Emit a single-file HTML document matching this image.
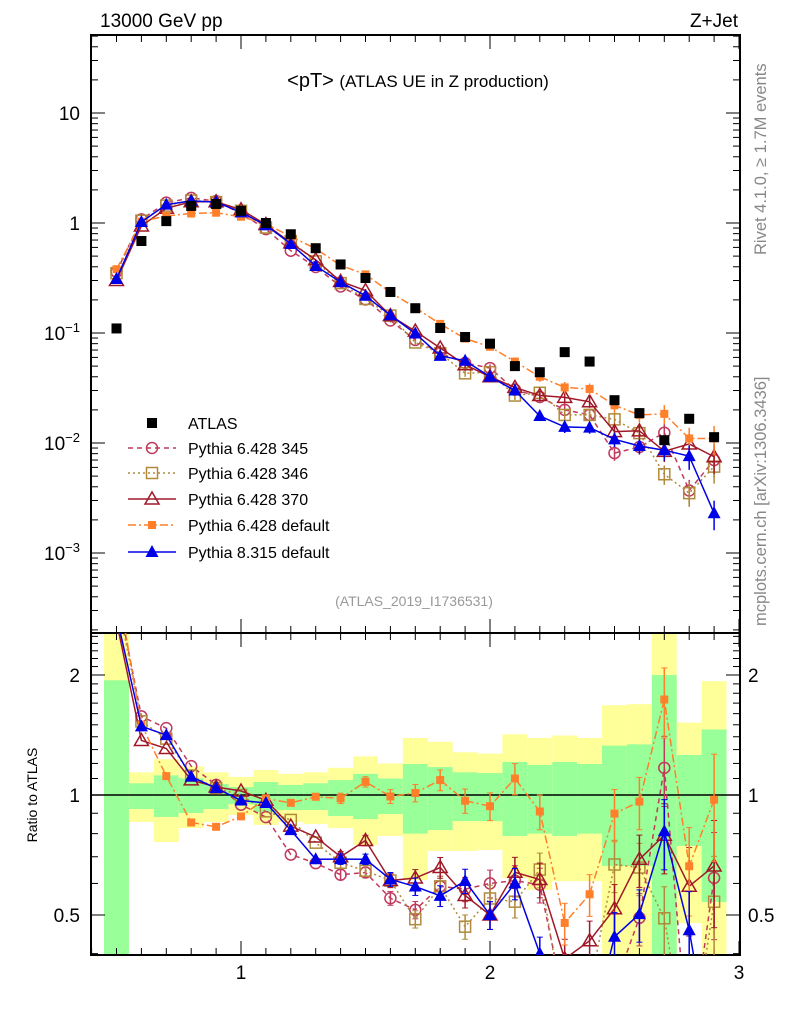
<!DOCTYPE html>
<html><head><meta charset="utf-8"><style>
html,body{margin:0;padding:0;background:#fff;overflow:hidden;width:786px;height:1024px;}
svg{display:block;font-family:"Liberation Sans",sans-serif;}
</style></head><body>
<svg id="c" width="786" height="1024" xmlns="http://www.w3.org/2000/svg">
<g id="bands"></g>
<g id="axes"></g>
<g id="series"></g>
<g id="txt">
<text x="100" y="27" font-size="19">13000 GeV pp</text>
<text x="738" y="27" font-size="19" text-anchor="end">Z+Jet</text>
<text x="418" y="87" font-size="20" text-anchor="middle">&lt;pT&gt; <tspan font-size="17">(ATLAS UE in Z production)</tspan></text>
<text x="414" y="606" font-size="14" fill="#999" text-anchor="middle">(ATLAS_2019_I1736531)</text>
<text transform="translate(766,255) rotate(-90)" font-size="16.5" fill="#888">Rivet 4.1.0, ≥ 1.7M events</text>
<text transform="translate(766,626) rotate(-90)" font-size="16.5" fill="#888">mcplots.cern.ch [arXiv:1306.3436]</text>
<text transform="translate(37,795) rotate(-90)" font-size="14" text-anchor="middle">Ratio to ATLAS</text>
</g>
<g id="legend"></g>
</svg>
<script>
const xs = [0.5,0.6,0.7,0.8,0.9,1.0,1.1,1.2,1.3,1.4,1.5,1.6,1.7,1.8,1.9,2.0,2.1,2.2,2.3,2.4,2.5,2.6,2.7,2.8,2.9];
const atlas = [0.11,0.686,1.04,1.43,1.49,1.29,1.0,0.79,0.59,0.42,0.316,0.236,0.168,0.111,0.092,0.080,0.050,0.044,0.067,0.055,0.0245,0.0187,0.0106,0.0166,0.0113];
const py345 = [0.36,1.08,1.53,1.69,1.58,1.22,0.88,0.56,0.398,0.265,0.202,0.130,0.0865,0.0655,0.0534,0.048,0.0305,0.0262,0.020,0.018,0.0081,0.0092,0.0124,0.0037,0.0070];
const py346 = [0.35,1.05,1.44,1.60,1.55,1.29,0.91,0.684,0.448,0.284,0.204,0.144,0.082,0.0655,0.043,0.044,0.027,0.0286,0.018,0.018,0.0164,0.0123,0.0052,0.0035,0.0061];
const py370 = [0.30,0.94,1.36,1.56,1.56,1.32,0.97,0.66,0.463,0.294,0.243,0.144,0.104,0.073,0.0515,0.040,0.032,0.027,0.026,0.0237,0.0127,0.0129,0.0084,0.0098,0.0075];
const py6def = [0.38,1.03,1.16,1.22,1.24,1.14,0.98,0.755,0.584,0.412,0.341,0.234,0.170,0.121,0.089,0.075,0.055,0.040,0.032,0.031,0.022,0.018,0.0184,0.011,0.011];
const py8def = [0.31,1.02,1.47,1.59,1.55,1.25,0.955,0.645,0.407,0.29,0.218,0.145,0.099,0.062,0.056,0.040,0.030,0.0176,0.014,0.0138,0.0108,0.0094,0.0086,0.0076,0.0023];
const mcRelErr = [0.01,0.01,0.01,0.01,0.01,0.01,0.01,0.02,0.02,0.03,0.03,0.04,0.05,0.06,0.07,0.08,0.09,0.10,0.12,0.12,0.15,0.15,0.2,0.25,0.3];
const greenLo = [0.3,0.922,0.881,0.901,0.922,0.949,0.906,0.917,0.917,0.886,0.87,0.896,0.80,0.817,0.86,0.86,0.789,0.80,0.789,0.80,0.664,0.664,0.3,0.745,0.539];
const greenHi = [1.94,1.07,1.12,1.10,1.066,1.047,1.078,1.06,1.07,1.09,1.13,1.10,1.196,1.175,1.14,1.135,1.21,1.19,1.21,1.196,1.33,1.34,2.0,1.26,1.46];
const yellowLo = [0.3,0.856,0.762,0.826,0.856,0.891,0.841,0.856,0.846,0.826,0.749,0.789,0.612,0.724,0.724,0.728,0.619,0.578,0.608,0.608,0.3,0.3,0.3,0.477,0.3];
const yellowHi = [3,1.14,1.23,1.18,1.14,1.11,1.155,1.13,1.14,1.17,1.25,1.20,1.39,1.36,1.28,1.27,1.42,1.39,1.41,1.39,1.68,1.69,3,1.52,1.93];
const ratioTickVals = [0.5,1,2];
const xTickVals = [1,2,3];

const NS="http://www.w3.org/2000/svg";
const L=91,R=740,T=35,MB=633,RB=955;
const X=v=>241+(v-1)*249;
const Y=v=>223-Math.log10(v)*110;
const YR=v=>795-Math.log2(v)*120;
function el(p,tag,at){const e=document.createElementNS(NS,tag);for(const k in at)e.setAttribute(k,at[k]);p.appendChild(e);return e;}
const axes=document.getElementById('axes'),bands=document.getElementById('bands'),ser=document.getElementById('series'),leg=document.getElementById('legend');
const clip=el(document.getElementById('c'),'defs',{});
const cp1=el(clip,'clipPath',{id:'cm'});el(cp1,'rect',{x:L,y:T,width:R-L,height:MB-T});
const cp2=el(clip,'clipPath',{id:'cr'});el(cp2,'rect',{x:L,y:MB,width:R-L,height:RB-MB});
bands.setAttribute('clip-path','url(#cr)');
xs.forEach((x,i)=>{
 const a=X(x-0.05),w=X(x+0.05)-a;
 const yb=el(bands,'rect',{x:a,y:YR(yellowHi[i]),width:w,height:YR(yellowLo[i])-YR(yellowHi[i]),fill:'#ffff99'});
 
 
 const gb=el(bands,'rect',{x:a,y:YR(greenHi[i]),width:w,height:YR(greenLo[i])-YR(greenHi[i]),fill:'#99ff99'});
 
 
});
el(axes,'line',{x1:L,x2:R,y1:795,y2:795,stroke:'#000','stroke-width':1.5});
el(axes,'rect',{x:L,y:T,width:R-L,height:MB-T,fill:'none',stroke:'#000','stroke-width':2});
el(axes,'rect',{x:L,y:MB,width:R-L,height:RB-MB,fill:'none',stroke:'#000','stroke-width':2});
for(let d=-4;d<=1;d++){for(let m=1;m<10;m++){const v=m*Math.pow(10,d);const y=Y(v);if(y<T||y>MB)continue;const len=m==1?14:7;
 el(axes,'line',{x1:L,x2:L+len,y1:y,y2:y,stroke:'#000'});el(axes,'line',{x1:R,x2:R-len,y1:y,y2:y,stroke:'#000'});}}
[[10,"10"],[1,"1"]].forEach(([v,s])=>{const t=el(axes,'text',{x:80,y:Y(v)+7,'font-size':19,'text-anchor':'end'});t.textContent=s;});
[-1,-2,-3].forEach(d=>{const t=el(axes,'text',{x:80,y:Y(Math.pow(10,d))+7,'font-size':19,'text-anchor':'end'});t.innerHTML='10<tspan dy="-8" font-size="13">−'+(-d)+'</tspan>';});
for(let k=4;k<=25;k++){const vv=k/10;const y=YR(vv);if(y<MB||y>RB)continue;const big=(vv==0.5||vv==1||vv==2);const len=big?14:7;
 el(axes,'line',{x1:L,x2:L+len,y1:y,y2:y,stroke:'#000'});el(axes,'line',{x1:R,x2:R-len,y1:y,y2:y,stroke:'#000'});}
ratioTickVals.forEach(v=>{[[80,'end'],[748,'start']].forEach(([x,a])=>{const t=el(axes,'text',{x:x,y:YR(v)+7,'font-size':19,'text-anchor':a});t.textContent=String(v);});});
for(let k=4;k<=30;k++){const v=k/10,x=X(v);if(x<L||x>R)continue;const big=k%10==0;const len=big?14:7;
 el(axes,'line',{x1:x,x2:x,y1:RB,y2:RB-len,stroke:'#000'});el(axes,'line',{x1:x,x2:x,y1:T,y2:T+len,stroke:'#000'});el(axes,'line',{x1:x,x2:x,y1:MB,y2:MB-len,stroke:'#000'});el(axes,'line',{x1:x,x2:x,y1:MB,y2:MB+len,stroke:'#000'});}
xTickVals.forEach(v=>{const t=el(axes,'text',{x:X(v),y:979,'font-size':19,'text-anchor':'middle'});t.textContent=String(v);});

function marker(g,kind,x,y,col){
 if(kind=='sq')return el(g,'rect',{x:x-5,y:y-5,width:10,height:10,fill:col});
 if(kind=='osq')return el(g,'rect',{x:x-5.5,y:y-5.5,width:11,height:11,fill:'none',stroke:col,'stroke-width':1.5});
 if(kind=='sqs')return el(g,'rect',{x:x-4,y:y-4,width:8,height:8,fill:col});
 if(kind=='oc')return el(g,'circle',{cx:x,cy:y,r:5.5,fill:'none',stroke:col,'stroke-width':1.5});
 if(kind=='otri')return el(g,'path',{d:`M${x} ${y-7}L${x+7} ${y+5}L${x-7} ${y+5}Z`,fill:'none',stroke:col,'stroke-width':1.5});
 if(kind=='tri')return el(g,'path',{d:`M${x} ${y-7}L${x+6.5} ${y+5}L${x-6.5} ${y+5}Z`,fill:col});
}
const series=[
 {name:'pythia-6428-345',label:'Pythia 6.428 345',vals:py345,col:'#c03a5c',dash:'5,4',m:'oc'},
 {name:'pythia-6428-346',label:'Pythia 6.428 346',vals:py346,col:'#b08a3a',dash:'2,3',m:'osq'},
 {name:'pythia-6428-370',label:'Pythia 6.428 370',vals:py370,col:'#a01828',dash:'',m:'otri'},
 {name:'pythia-6428-default',label:'Pythia 6.428 default',vals:py6def,col:'#ff7f2a',dash:'8,3,2,3',m:'sqs'},
 {name:'pythia-8315-default',label:'Pythia 8.315 default',vals:py8def,col:'#0000e8',dash:'',m:'tri'}];
series.forEach(s=>{
 const gm=el(ser,'g',{'clip-path':'url(#cm)'});
 
 
 const gr=el(ser,'g',{'clip-path':'url(#cr)'});
 
 
 el(gm,'polyline',{points:xs.map((x,i)=>X(x)+','+Y(s.vals[i])).join(' '),fill:'none',stroke:s.col,'stroke-width':1.5,'stroke-dasharray':s.dash});
 const rr=xs.map((x,i)=>s.vals[i]/atlas[i]);
 el(gr,'polyline',{points:xs.map((x,i)=>X(x)+','+YR(rr[i])).join(' '),fill:'none',stroke:s.col,'stroke-width':1.5,'stroke-dasharray':s.dash});
 xs.forEach((x,i)=>{
  const e=mcRelErr[i];
  if(e>=0.03){
   el(gm,'line',{x1:X(x),x2:X(x),y1:Y(s.vals[i]*(1+e)),y2:Y(s.vals[i]*(1-e)),stroke:s.col,'stroke-width':1.5});
   el(gr,'line',{x1:X(x),x2:X(x),y1:YR(rr[i]*(1+e)),y2:YR(rr[i]*(1-e)),stroke:s.col,'stroke-width':1.5});
   el(gr,'line',{x1:X(x)-3,x2:X(x)+3,y1:YR(rr[i]*(1+e)),y2:YR(rr[i]*(1+e)),stroke:s.col});
   el(gr,'line',{x1:X(x)-3,x2:X(x)+3,y1:YR(rr[i]*(1-e)),y2:YR(rr[i]*(1-e)),stroke:s.col});
  }
  const a=marker(gm,s.m,X(x),Y(s.vals[i]),s.col);
  
  
  const b=marker(gr,s.m,X(x),YR(rr[i]),s.col);
  
  
 });
});
const ga=el(ser,'g',{'clip-path':'url(#cm)'});


xs.forEach((x,i)=>{const p=marker(ga,'sq',X(x),Y(atlas[i]),'#000');
 
 });
const ly=[423,448,473,499,525,552];
const la=el(leg,'rect',{x:147,y:ly[0]-5,width:10,height:10,fill:'#000'});


const lt=el(leg,'text',{x:188,y:ly[0]+6,'font-size':16});lt.textContent='ATLAS';


series.forEach((s,k)=>{const y=ly[k+1];
 el(leg,'line',{x1:128,x2:176,y1:y,y2:y,stroke:s.col,'stroke-width':1.5,'stroke-dasharray':s.dash});
 marker(leg,s.m,152,y,s.col);
 const t=el(leg,'text',{x:188,y:y+6,'font-size':16});t.textContent=s.label;
 
 });
</script>
</body></html>
